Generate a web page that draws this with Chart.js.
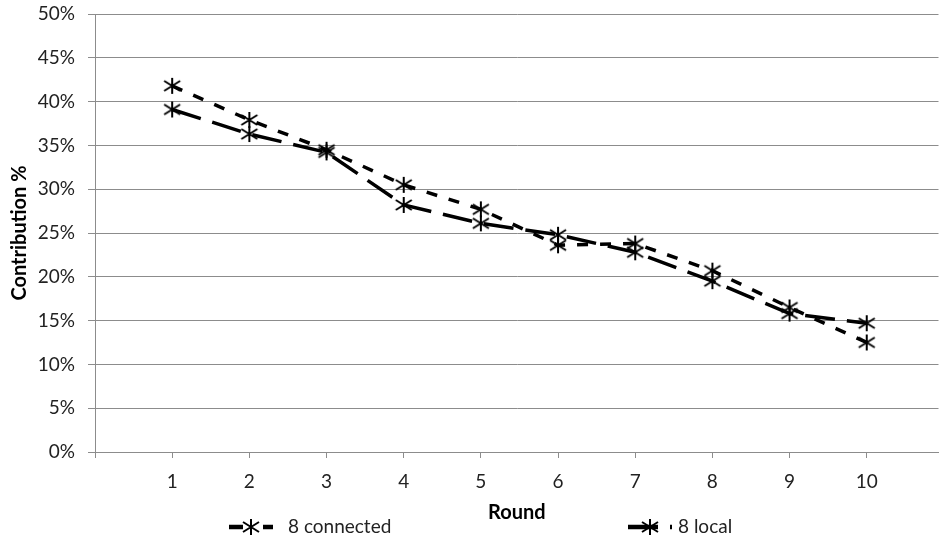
<!DOCTYPE html>
<html>
<head>
<meta charset="utf-8">
<script src="https://cdn.jsdelivr.net/npm/chart.js@4/dist/chart.umd.min.js"></script>
<style>
html,body{margin:0;padding:0;background:#fff;}
#wrap{width:939px;height:542px;position:relative;}
</style>
</head>
<body>
<div id="wrap"><canvas id="c" width="939" height="542"></canvas></div>
<script>
const rounds = [1, 2, 3, 4, 5, 6, 7, 8, 9, 10];
const connected = [41.8, 37.9, 34.5, 30.5, 27.7, 23.6, 23.8, 20.7, 16.5, 12.5];
const local = [39.1, 36.3, 34.2, 28.2, 26.1, 24.8, 22.8, 19.5, 15.8, 14.7];
const yTicks = [0, 5, 10, 15, 20, 25, 30, 35, 40, 45, 50];
const seriesNames = ['8 connected', '8 local'];

const FONT = 'Lato, "Open Sans", sans-serif';
const GRID = '#8c8c8c';

function makeStar() {
  const c = document.createElement('canvas');
  c.width = 20; c.height = 18;
  const g = c.getContext('2d');
  g.strokeStyle = '#000';
  g.lineWidth = 2;
  g.beginPath();
  g.moveTo(10, 1); g.lineTo(10, 17);
  g.moveTo(2, 4); g.lineTo(18, 14);
  g.moveTo(18, 4); g.lineTo(2, 14);
  g.stroke();
  return c;
}
const star = makeStar();

const dashConnected = [11, 12];
const dashLocal = [30, 12];

const legendPlugin = {
  id: 'customLegend',
  afterDraw(chart) {
    const ctx = chart.ctx;
    const y = 527;
    const items = [
      {x: 229, dash: [14, 20, 10, 20], text: seriesNames[0], tx: 288},
      {x: 628, dash: [30, 12], text: seriesNames[1], tx: 678}
    ];
    ctx.save();
    items.forEach(it => {
      ctx.strokeStyle = '#000';
      ctx.lineWidth = 4.5;
      ctx.setLineDash(it.dash);
      ctx.beginPath();
      ctx.moveTo(it.x, y);
      ctx.lineTo(it.x + 44, y);
      ctx.stroke();
      ctx.setLineDash([]);
      ctx.drawImage(star, it.x + 22 - 10, y - 9);
      ctx.fillStyle = '#222';
      ctx.font = '19px ' + FONT;
      ctx.textBaseline = 'middle';
      ctx.textAlign = 'left';
      ctx.fillText(it.text, it.tx, y);
    });
    ctx.restore();
  }
};

new Chart(document.getElementById('c'), {
  type: 'line',
  data: {
    datasets: [
      {
        label: seriesNames[0],
        data: rounds.map((r, i) => ({x: r, y: connected[i]})),
        borderColor: '#000',
        borderWidth: 3.5,
        borderDash: dashConnected,
        borderCapStyle: 'butt',
        pointStyle: star,
        pointRadius: 9,
        tension: 0,
        fill: false
      },
      {
        label: seriesNames[1],
        data: rounds.map((r, i) => ({x: r, y: local[i]})),
        borderColor: '#000',
        borderWidth: 3.5,
        borderDash: dashLocal,
        borderCapStyle: 'butt',
        pointStyle: star,
        pointRadius: 9,
        tension: 0,
        fill: false
      }
    ]
  },
  options: {
    responsive: false,
    animation: false,
    layout: {autoPadding: false, padding: {top: 14, right: 0.5, bottom: 0, left: 0}},
    plugins: {
      legend: {display: false},
      tooltip: {enabled: false}
    },
    scales: {
      x: {
        type: 'linear',
        min: 0,
        max: 10.93,
        afterBuildTicks(scale) {
          scale.ticks = [0].concat(rounds).map(v => ({value: v}));
        },
        afterFit(scale) { scale.height = 90; scale.paddingRight = 0; scale.paddingLeft = 0; },
        ticks: {
          autoSkip: false,
          maxRotation: 0,
          padding: 12,
          color: '#222',
          font: {family: FONT, size: 19},
          callback: (v) => v === 0 ? '' : String(v)
        },
        grid: {
          drawOnChartArea: false,
          drawTicks: true,
          tickLength: 6,
          color: GRID
        },
        border: {display: true, color: GRID},
        title: {
          display: true,
          text: 'Round',
          color: '#000',
          font: {family: FONT, size: 20, weight: 'bold'},
          padding: {top: 0, bottom: 17}
        }
      },
      y: {
        min: 0,
        max: 50,
        afterBuildTicks(scale) {
          scale.ticks = yTicks.map(v => ({value: v}));
        },
        afterFit(scale) { scale.width = 95; scale.paddingTop = 0; scale.paddingBottom = 0; },
        ticks: {
          padding: 13,
          color: '#222',
          font: {family: FONT, size: 19},
          callback: (v) => v + '%'
        },
        grid: {
          color: GRID,
          tickLength: 7,
          drawTicks: true
        },
        border: {display: true, color: GRID},
        title: {
          display: true,
          text: 'Contribution %',
          color: '#000',
          font: {family: FONT, size: 20, weight: 'bold'},
          padding: {top: 8, bottom: 0}
        }
      }
    }
  },
  plugins: [legendPlugin]
});
</script>
</body>
</html>
